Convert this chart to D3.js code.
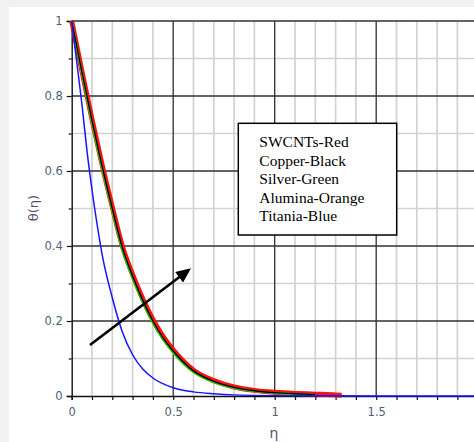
<!DOCTYPE html>
<html>
<head>
<meta charset="utf-8">
<script src="https://cdn.jsdelivr.net/npm/d3@7"></script>
<style>
html,body{margin:0;padding:0;background:#f1f1f1;overflow:hidden;}
svg{display:block;}
</style>
</head>
<body>
<svg id="chart" width="474" height="442"></svg>
<script>
// ---- data ----
const etaNano = [0,0.05,0.1,0.15,0.2,0.25,0.3,0.35,0.4,0.45,0.5,0.6,0.7,0.8,0.9,1.0,1.1,1.2];
const etaRed  = [0,0.05,0.1,0.15,0.2,0.25,0.3,0.35,0.4,0.45,0.5,0.6,0.7,0.8,0.9,1.0,1.1,1.2,1.3,1.33];
const swcntsRed   = [1,0.867,0.738,0.616,0.504,0.399,0.324,0.259,0.204,0.159,0.123,0.069,0.041,0.024,0.015,0.01,0.007,0.005,0.003,0.002];
const copperBlack = [1,0.865,0.735,0.612,0.5,0.395,0.32,0.255,0.2,0.155,0.12,0.067,0.039,0.023,0.014,0.009,0.006,0.004];
const silverGreen = [1,0.861,0.729,0.606,0.494,0.389,0.314,0.25,0.195,0.151,0.116,0.064,0.037,0.021,0.013,0.008,0.005,0.003];
const aluminaOrange=[1,0.86,0.728,0.605,0.493,0.388,0.313,0.249,0.194,0.15,0.115,0.063,0.036,0.021,0.013,0.008,0.005,0.003];
const etaBlue = [0,0.025,0.05,0.075,0.1,0.125,0.15,0.2,0.25,0.3,0.35,0.4,0.5,0.6,0.7,0.8,1.0,1.2,1.5,2.0];
const titaniaBlue = [1,0.89,0.78,0.655,0.55,0.458,0.377,0.262,0.17,0.11,0.072,0.048,0.022,0.011,0.006,0.003,0.001,0.0005,0,0];
const yTicks = [0,0.2,0.4,0.6,0.8,1];
const yTickLabels = ["0","0.2","0.4","0.6","0.8","1"];
const xTicks = [0,0.5,1,1.5,2];
const xTickLabels = ["0","0.5","1","1.5","2"];
const legendLines = ["SWCNTs-Red","Copper-Black","Silver-Green","Alumina-Orange","Titania-Blue"];
const arrowFrom = [0.09,0.136], arrowTo = [0.588,0.341];

// ---- layout ----
const svg = d3.select("#chart");
svg.append("rect").attr("x",9).attr("y",7).attr("width",480).attr("height",450).attr("fill","#ffffff");

const x = d3.scaleLinear().domain([0,2]).range([71.7,477.7]);
const y = d3.scaleLinear().domain([0,1]).range([396,21]);

const minor = d3.range(1,20).map(i=>i/10).filter(v=>Math.abs(v*2-Math.round(v*2))>1e-6);
const minorY = d3.range(1,10).map(i=>i/10).filter(v=>Math.abs(v*5-Math.round(v*5))>1e-6);

const grid = svg.append("g");
grid.selectAll(".mx").data(minor).join("line")
  .attr("x1",d=>x(d)).attr("x2",d=>x(d)).attr("y1",y(1)).attr("y2",y(0))
  .attr("stroke","#d2d2d2").attr("stroke-width",1.7);
grid.selectAll(".my").data(minorY).join("line")
  .attr("x1",x(0)).attr("x2",x(2)).attr("y1",d=>y(d)).attr("y2",d=>y(d))
  .attr("stroke","#d2d2d2").attr("stroke-width",1.7);
grid.selectAll(".Mx").data([0.5,1,1.5]).join("line")
  .attr("x1",d=>x(d)).attr("x2",d=>x(d)).attr("y1",y(1)).attr("y2",y(0))
  .attr("stroke","#303030").attr("stroke-width",1.3);
grid.selectAll(".My").data([0.2,0.4,0.6,0.8,1]).join("line")
  .attr("x1",x(0)).attr("x2",x(2)).attr("y1",d=>y(d)).attr("y2",d=>y(d))
  .attr("stroke","#303030").attr("stroke-width",1.3);

// axes
const labelColor = "#4e5f78";
const yAxis = d3.axisLeft(y).tickValues(yTicks).tickFormat((d,i)=>yTickLabels[i]).tickSize(5).tickPadding(4);
const gy = svg.append("g").attr("transform",`translate(${x(0)},0)`).call(yAxis);
const yMinorAxis = d3.axisLeft(y).tickValues(minorY).tickFormat("").tickSize(3);
svg.append("g").attr("transform",`translate(${x(0)},0)`).call(yMinorAxis).select(".domain").remove();
const xAxis = d3.axisBottom(x).tickValues(xTicks).tickFormat((d,i)=>xTickLabels[i]).tickSize(4).tickPadding(8);
const gx = svg.append("g").attr("transform",`translate(0,${y(0)})`).call(xAxis);
const xMinorAxis = d3.axisBottom(x).tickValues(minor).tickFormat("").tickSize(4);
svg.append("g").attr("transform",`translate(0,${y(0)})`).call(xMinorAxis).select(".domain").remove();
svg.selectAll(".domain").attr("stroke","#111").attr("stroke-width",1.4);
svg.selectAll(".tick line").attr("stroke","#111").attr("stroke-width",1.2);
[gx,gy].forEach(g=>g.selectAll("text").attr("fill",labelColor)
  .style("font-family","'DejaVu Sans',Verdana,sans-serif").style("font-size","11.5px"));

// axis titles
svg.append("text").attr("transform","translate(38,208) rotate(-90)")
  .attr("text-anchor","middle").attr("fill","#5a4d6e")
  .style("font-family","'DejaVu Sans',sans-serif").style("font-size","13px").text("θ(η)");
svg.append("text").attr("x",274).attr("y",438).attr("text-anchor","middle").attr("fill","#5a4d6e")
  .style("font-family","'DejaVu Sans',sans-serif").style("font-size","14px").text("η");

// curves
const line = d3.line().x(d=>x(d[0])).y(d=>y(d[1])).curve(d3.curveMonotoneX);
const plot = svg.append("g");
function draw(etas, vals, color, w){
  plot.append("path").datum(etas.map((e,i)=>[e,vals[i]]))
    .attr("d",line).attr("fill","none").attr("stroke",color).attr("stroke-width",w)
    .attr("stroke-linejoin","round");
}
draw(etaRed, swcntsRed, "#ff1010", 5);
draw(etaNano, aluminaOrange, "#ff8c00", 1.8);
draw(etaNano, silverGreen, "#00d000", 2);
draw(etaNano, copperBlack, "#000000", 1.3);
draw(etaBlue, titaniaBlue, "#1414ff", 1.5);

// arrow
const ax1=x(arrowFrom[0]), ay1=y(arrowFrom[1]), ax2=x(arrowTo[0]), ay2=y(arrowTo[1]);
const ang = Math.atan2(ay2-ay1, ax2-ax1);
const hl = 15, hw = 6.5;
const bx = ax2 - hl*Math.cos(ang), by = ay2 - hl*Math.sin(ang);
svg.append("line").attr("x1",ax1).attr("y1",ay1).attr("x2",bx+2*Math.cos(ang)).attr("y2",by+2*Math.sin(ang))
  .attr("stroke","#000").attr("stroke-width",2.6);
svg.append("path").attr("d",`M${ax2},${ay2}L${bx - hw*Math.sin(ang)},${by + hw*Math.cos(ang)}L${bx + hw*Math.sin(ang)},${by - hw*Math.cos(ang)}Z`)
  .attr("fill","#000");

// legend
svg.append("rect").attr("x",238.3).attr("y",123.3).attr("width",158.4).attr("height",111.7)
  .attr("fill","#fff").attr("stroke","#000").attr("stroke-width",1.5);
svg.append("g").selectAll("text").data(legendLines).join("text")
  .attr("x",259.3).attr("y",(d,i)=>147.3+i*18.45)
  .style("font-family","'Liberation Serif','Times New Roman',serif").style("font-size","15.5px")
  .attr("fill","#000").text(d=>d);
</script>
</body>
</html>
